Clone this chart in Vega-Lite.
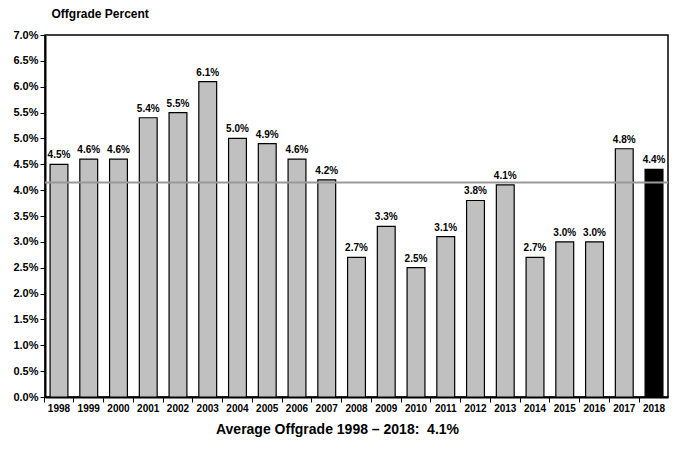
{
  "$schema": "https://vega.github.io/schema/vega-lite/v6.json",
  "width": 623,
  "height": 362,
  "autosize": {"type": "none"},
  "padding": {"left": 45, "top": 35, "right": 8, "bottom": 63},
  "config": {
    "font": "Liberation Sans",
    "view": {"stroke": "black", "strokeWidth": 1.5},
    "axis": {"labelFont": "Liberation Sans", "labelFontWeight": "bold", "labelColor": "black", "domainColor": "black", "tickColor": "black", "grid": false},
    "axisY": {
      "titleAngle": 0, "titleAlign": "left", "titleBaseline": "alphabetic", "titleX": 6, "titleY": -18,
      "titleFontSize": 12, "titleFontWeight": "bold", "titleColor": "black", "titleFont": "Liberation Sans",
      "format": ".1%", "labelFontSize": 11, "tickSize": 5, "domainWidth": 2, "labelPadding": 2, "labelOverlap": false
    }
  },
  "title": {"text": "Average Offgrade 1998 – 2018:\u00a0 4.1%", "orient": "bottom", "anchor": "middle", "fontSize": 14, "fontWeight": "bold", "font": "Liberation Sans", "color": "black", "offset": 10, "dx": -19},
  "datasets": {
    "bars": [
      {"year": 1998, "pct": 0.045},
      {"year": 1999, "pct": 0.046},
      {"year": 2000, "pct": 0.046},
      {"year": 2001, "pct": 0.054},
      {"year": 2002, "pct": 0.055},
      {"year": 2003, "pct": 0.061},
      {"year": 2004, "pct": 0.050},
      {"year": 2005, "pct": 0.049},
      {"year": 2006, "pct": 0.046},
      {"year": 2007, "pct": 0.042},
      {"year": 2008, "pct": 0.027},
      {"year": 2009, "pct": 0.033},
      {"year": 2010, "pct": 0.025},
      {"year": 2011, "pct": 0.031},
      {"year": 2012, "pct": 0.038},
      {"year": 2013, "pct": 0.041},
      {"year": 2014, "pct": 0.027},
      {"year": 2015, "pct": 0.030},
      {"year": 2016, "pct": 0.030},
      {"year": 2017, "pct": 0.048},
      {"year": 2018, "pct": 0.044}
    ],
    "avg": [{"avg": 0.0415}]
  },
  "layer": [
    {
      "data": {"name": "bars"},
      "encoding": {
        "x": {
          "field": "year", "type": "ordinal",
          "scale": {"paddingInner": 0.4, "paddingOuter": 0.17},
          "axis": {"title": null, "labelAngle": 0, "labelFontSize": 10, "bandPosition": -0.333, "labelOffset": 0, "tickSize": 5, "domainWidth": 2, "labelPadding": 1}
        },
        "y": {
          "field": "pct", "type": "quantitative",
          "scale": {"domain": [0, 0.07], "nice": false},
          "axis": {"title": "Offgrade Percent", "values": [0, 0.005, 0.01, 0.015, 0.02, 0.025, 0.03, 0.035, 0.04, 0.045, 0.05, 0.055, 0.06, 0.065, 0.07]}
        }
      },
      "layer": [
        {
          "mark": {"type": "bar", "stroke": "black", "strokeWidth": 1.2},
          "encoding": {
            "color": {"condition": {"test": "datum.year === 2018", "value": "black"}, "value": "#c0c0c0"}
          }
        },
        {
          "mark": {"type": "text", "baseline": "bottom", "dy": -4, "fontSize": 10, "fontWeight": "bold", "color": "black"},
          "encoding": {
            "text": {"field": "pct", "type": "quantitative", "format": ".1%"}
          }
        }
      ]
    },
    {
      "data": {"name": "avg"},
      "mark": {"type": "rule", "color": "#999999", "strokeWidth": 2},
      "encoding": {
        "y": {
          "field": "avg", "type": "quantitative",
          "axis": {"title": "Offgrade Percent", "values": [0, 0.005, 0.01, 0.015, 0.02, 0.025, 0.03, 0.035, 0.04, 0.045, 0.05, 0.055, 0.06, 0.065, 0.07]}
        }
      }
    }
  ]
}
